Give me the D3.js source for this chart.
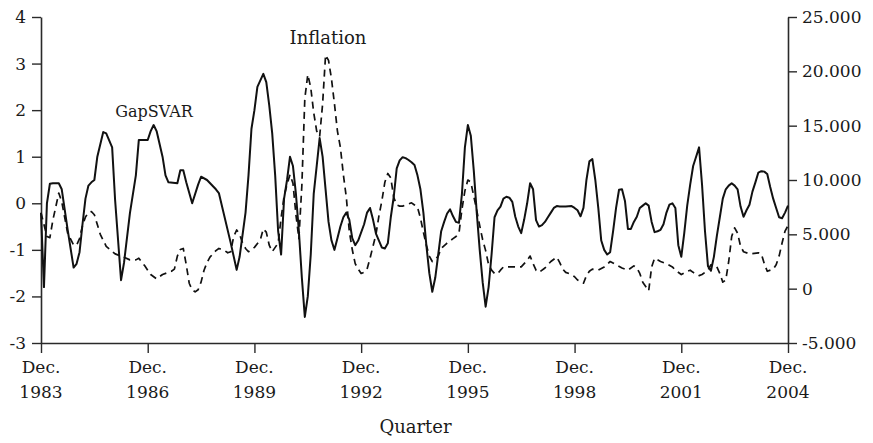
<!DOCTYPE html>
<html>
<head>
<meta charset="utf-8">
<script src="https://cdn.jsdelivr.net/npm/d3@7"></script>
<style>
  html, body { margin: 0; padding: 0; background: #fff; }
  svg { display: block; }
  text { font-family: "DejaVu Serif", "Liberation Serif", serif; fill: #1a1a1a; }
</style>
</head>
<body>
<svg id="chart" width="873" height="443"></svg>
<script>
// Month index since Dec. 1983 (0) to Dec. 2004 (252)
const xTickMonths = [0, 36, 72, 108, 144, 180, 216, 252];
const xTickYears = ["1983", "1986", "1989", "1992", "1995", "1998", "2001", "2004"];
const xTickPrefix = "Dec.";
const leftTicks = [-3, -2, -1, 0, 1, 2, 3, 4];
const rightTicks = [-5, 0, 5, 10, 15, 20, 25];
const xTitle = "Quarter";
const labelGap = "GapSVAR";
const labelInfl = "Inflation";

// GapSVAR (left axis): [month, value]
const gapSVAR = [
  [0,-0.21],[1,-1.8],[2,0.0],[3,0.42],[4,0.43],[6,0.43],[7,0.3],[9,-0.57],[11,-1.38],[12,-1.3],
  [13,-1.05],[14,-0.45],[15,0.1],[16,0.38],[17,0.45],[18,0.5],[19,1.0],[21,1.53],[22,1.5],[24,1.2],
  [25,0.07],[27,-1.65],[28,-1.28],[30,-0.21],[32,0.6],[33,1.36],[36,1.36],[37,1.55],[38,1.68],[39,1.55],
  [41,1.0],[42,0.6],[43,0.45],[46,0.43],[47,0.71],[48,0.71],[49,0.45],[51,0.0],[53,0.4],[54,0.57],
  [56,0.5],[59,0.3],[60,0.22],[64,-0.85],[66,-1.43],[67,-1.15],[69,-0.2],[70,0.6],[71,1.6],[72,2.0],
  [73,2.5],[75,2.78],[76,2.6],[77,2.1],[78,1.5],[79,0.6],[80,-0.6],[81,-1.1],[82,0.1],[83,0.5],
  [84,1.0],[85,0.8],[86,0.2],[87,-0.6],[88,-1.6],[89,-2.44],[90,-2.0],[91,-1.1],[92,0.2],[93,0.8],
  [94,1.4],[95,1.0],[96,0.3],[97,-0.4],[98,-0.8],[99,-1.0],[100,-0.75],[101,-0.5],[102,-0.3],[103,-0.2],
  [104,-0.35],[105,-0.75],[106,-0.9],[107,-0.8],[109,-0.45],[110,-0.2],[111,-0.1],[112,-0.35],[113,-0.65],[114,-0.8],
  [115,-0.95],[116,-0.97],[117,-0.86],[118,-0.3],[119,0.14],[120,0.75],[121,0.92],[122,0.99],[123,0.97],[124,0.93],
  [125,0.88],[126,0.82],[127,0.6],[128,0.3],[129,-0.2],[130,-0.9],[131,-1.5],[132,-1.9],[133,-1.6],[134,-1.1],
  [135,-0.6],[136,-0.4],[137,-0.22],[138,-0.13],[139,-0.28],[140,-0.4],[141,-0.42],[142,0.2],[143,1.2],[144,1.68],
  [145,1.45],[146,0.7],[147,-0.2],[148,-1.0],[149,-1.7],[150,-2.22],[151,-1.8],[152,-1.1],[153,-0.3],[154,-0.15],
  [155,-0.07],[156,0.1],[157,0.14],[158,0.12],[159,0.03],[160,-0.29],[161,-0.5],[162,-0.64],[163,-0.35],[164,0.0],
  [165,0.43],[166,0.3],[167,-0.36],[168,-0.5],[169,-0.47],[170,-0.4],[171,-0.3],[172,-0.2],[173,-0.1],[174,-0.06],
  [175,-0.07],[177,-0.07],[179,-0.06],[180,-0.1],[181,-0.15],[182,-0.28],[183,-0.1],[184,0.5],[185,0.9],[186,0.95],
  [187,0.5],[188,-0.1],[189,-0.8],[190,-1.0],[191,-1.1],[192,-1.05],[193,-0.6],[194,-0.1],[195,0.29],[196,0.3],
  [197,0.05],[198,-0.55],[199,-0.55],[200,-0.4],[201,-0.29],[202,-0.1],[203,-0.05],[204,0.0],[205,-0.05],[206,-0.4],
  [207,-0.62],[208,-0.6],[209,-0.57],[210,-0.45],[211,-0.2],[212,-0.03],[213,0.0],[214,-0.1],[215,-0.9],[216,-1.15],
  [217,-0.64],[218,-0.05],[219,0.4],[220,0.8],[221,1.0],[222,1.2],[223,0.4],[224,-0.6],[225,-1.35],[226,-1.45],
  [227,-1.15],[228,-0.7],[229,-0.3],[230,0.1],[231,0.3],[232,0.38],[233,0.43],[234,0.38],[235,0.3],[236,-0.07],
  [237,-0.29],[238,-0.15],[239,-0.03],[240,0.25],[241,0.45],[242,0.66],[243,0.69],[244,0.68],[245,0.63],[246,0.35],
  [247,0.1],[248,-0.1],[249,-0.3],[250,-0.32],[251,-0.2],[252,-0.05]
];

// Inflation (right axis, thousands): [month, value]
const inflation = [
  [0,7.0],[2,4.8],[3,4.7],[4,6.3],[6,8.8],[7,8.0],[9,5.1],[11,4.0],[12,4.0],[13,4.6],
  [14,5.8],[15,6.6],[16,7.0],[17,7.1],[18,6.8],[19,5.9],[20,5.0],[22,3.9],[25,3.2],[28,2.9],
  [30,2.65],[32,2.65],[33,2.8],[35,2.1],[37,1.3],[39,0.9],[41,1.3],[44,1.6],[45,1.8],[46,3.0],
  [47,3.6],[48,3.7],[49,2.2],[50,0.5],[51,-0.1],[52,-0.3],[53,-0.1],[54,0.6],[55,1.7],[56,2.4],
  [57,2.9],[59,3.5],[60,3.7],[62,3.5],[63,3.3],[64,3.4],[65,4.8],[66,5.4],[67,5.0],[68,4.2],
  [69,3.7],[70,3.4],[72,3.8],[74,4.5],[75,5.5],[76,5.2],[77,4.0],[78,3.4],[80,4.2],[81,6.5],
  [82,8.5],[83,9.6],[84,10.5],[85,9.7],[86,6.8],[87,4.6],[88,9.5],[89,17.5],[90,19.7],[91,18.5],
  [92,16.2],[93,14.5],[94,14.0],[95,17.0],[96,21.5],[97,21.0],[98,19.3],[99,17.0],[100,14.5],[101,13.0],
  [102,10.5],[103,8.4],[104,5.3],[105,3.6],[106,2.3],[107,1.8],[108,1.4],[109,1.5],[110,1.8],[111,2.8],
  [112,3.9],[113,5.0],[114,6.7],[115,8.1],[116,9.8],[117,10.6],[118,10.2],[119,8.4],[120,7.7],[121,7.6],
  [122,7.6],[124,7.8],[125,7.9],[126,7.7],[127,7.5],[128,6.5],[129,5.2],[130,4.0],[131,3.0],[132,2.5],
  [133,2.7],[134,3.0],[135,3.7],[137,4.2],[139,4.6],[140,4.8],[141,5.1],[142,7.3],[143,9.0],[144,10.0],
  [145,9.8],[146,8.5],[147,7.2],[148,5.8],[149,4.5],[150,3.5],[151,2.2],[152,1.7],[153,1.4],[154,1.35],
  [155,1.7],[156,2.0],[162,2.0],[163,2.3],[164,2.6],[165,3.0],[166,2.3],[167,1.7],[168,1.5],[170,1.9],
  [172,2.5],[174,2.9],[175,2.4],[176,1.8],[177,1.5],[179,1.3],[180,1.1],[181,0.8],[183,0.5],[184,1.2],
  [185,1.6],[186,1.8],[188,1.7],[190,2.0],[192,2.5],[194,2.2],[196,1.9],[198,1.7],[200,2.1],[201,1.9],
  [202,1.4],[203,0.6],[205,-0.2],[206,2.0],[207,2.8],[209,2.5],[211,2.3],[213,2.0],[214,1.7],[216,1.3],
  [218,1.6],[219,1.7],[220,1.5],[222,1.2],[223,1.3],[225,1.7],[226,2.2],[227,2.2],[228,2.0],[229,1.4],
  [230,0.6],[231,0.8],[232,2.5],[233,4.8],[234,5.6],[235,5.1],[236,3.9],[237,3.4],[239,3.2],[242,3.3],
  [243,3.2],[244,2.3],[245,1.6],[247,1.8],[248,2.2],[249,3.0],[250,4.2],[251,5.3],[252,5.8]
];

const svg = d3.select("#chart");
const plotL = 41, plotR = 788, plotT = 17, plotB = 343;
const FONT = "DejaVu Serif, Liberation Serif, serif";

const x = d3.scaleLinear().domain([0, 252]).range([plotL, plotR]);
const yL = d3.scaleLinear().domain([-3, 4]).range([plotB, plotT]);
const yR = d3.scaleLinear().domain([-5, 25]).range([plotB, plotT]);

const fmtL = d => (d < 0 ? "-" : "") + Math.abs(d);
const fmtR = d => d === 0 ? "0" : (d < 0 ? "-" : "") + Math.abs(d) + ".000";

// Left axis
const gL = svg.append("g").attr("transform", `translate(${plotL},0)`)
  .call(d3.axisLeft(yL).tickValues(leftTicks).tickFormat(fmtL).tickSize(9).tickSizeOuter(0).tickPadding(6));
// Right axis
const gR = svg.append("g").attr("transform", `translate(${plotR},0)`)
  .call(d3.axisRight(yR).tickValues(rightTicks).tickFormat(fmtR).tickSize(9).tickSizeOuter(0).tickPadding(5));
// Bottom axis
const gB = svg.append("g").attr("transform", `translate(0,${plotB})`)
  .call(d3.axisBottom(x).tickValues(xTickMonths).tickFormat(() => "").tickSize(10).tickSizeOuter(0));

[gL, gR, gB].forEach(g => {
  g.selectAll("path.domain").attr("stroke", "#2a2a2a").attr("stroke-width", 1.6);
  g.selectAll(".tick line").attr("stroke", "#2a2a2a").attr("stroke-width", 1.4);
  g.selectAll(".tick text").attr("font-family", FONT)
    .attr("font-size", 17).attr("fill", "#1a1a1a");
});

// X tick labels (two lines)
const xl = svg.append("g");
xTickMonths.forEach((m, i) => {
  const t = xl.append("text").attr("x", x(m)).attr("text-anchor", "middle")
    .attr("font-family", FONT).attr("font-size", 17);
  t.append("tspan").attr("x", x(m)).attr("y", 373).text(xTickPrefix);
  t.append("tspan").attr("x", x(m)).attr("y", 398).text(xTickYears[i]);
});

// X title
svg.append("text").attr("x", (plotL + plotR) / 2 + 1).attr("y", 433)
  .attr("text-anchor", "middle").attr("font-family", FONT).attr("font-size", 18).text(xTitle);

// Lines
const lineL = d3.line().x(d => x(d[0])).y(d => yL(d[1]));
const lineR = d3.line().x(d => x(d[0])).y(d => yR(d[1]));

svg.append("path").datum(inflation).attr("d", lineR)
  .attr("fill", "none").attr("stroke", "#111").attr("stroke-width", 1.7)
  .attr("stroke-dasharray", "7,5").attr("stroke-linejoin", "round");

svg.append("path").datum(gapSVAR).attr("d", lineL)
  .attr("fill", "none").attr("stroke", "#111").attr("stroke-width", 2)
  .attr("stroke-linejoin", "round");

// Annotations
svg.append("text").attr("x", 154).attr("y", 117).attr("text-anchor", "middle")
  .attr("font-family", FONT).attr("font-size", 16).text(labelGap);
svg.append("text").attr("x", 328).attr("y", 44).attr("text-anchor", "middle")
  .attr("font-family", FONT).attr("font-size", 18).text(labelInfl);
</script>
</body>
</html>
